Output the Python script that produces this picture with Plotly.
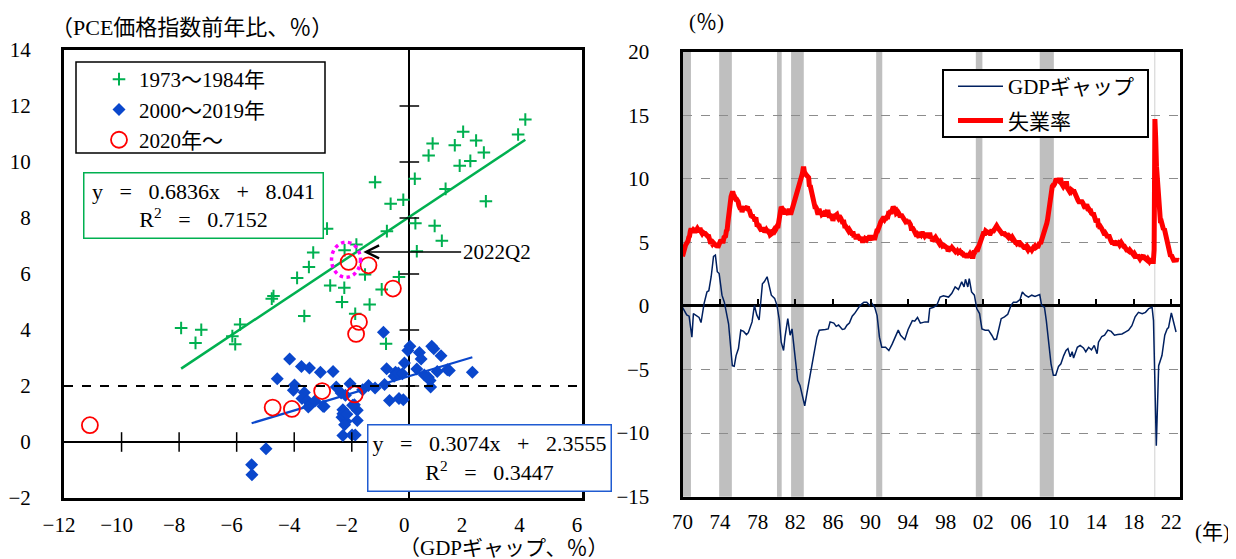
import plotly.graph_objects as go

W, H = 1236, 559
OFF = 8  # the page body adds an 8px margin around the figure


def px(x):
    return (x - OFF) / W


def py(y):
    return 1 - (y - OFF) / H


FONT = "'Liberation Serif', 'Noto Sans CJK JP', serif"
GREEN = "#00B050"
BLUE = "#0A47CC"
RED = "#FF0000"
NAVY = "#002060"
MAGENTA = "#FF00FF"

# ---------------- Left panel data (GDP gap vs PCE inflation) ----------------
gap_7384 = [4.03, 3.78, 1.87, 2.32, 0.81, 1.58, 2.59, 0.67, 2.12, 1.75, -1.19, 0.19, 1.26,
            -0.65, -0.21, 2.66, 0.21, 0.88, -0.78, 1.13, 0.26,
            -2.86, -1.84, -2.25, -3.34, -3.49, -3.90, -1.54, -0.36, -2.75, -2.26, -0.96,
            -4.72, -4.78, -2.34, -1.38, -3.65, -1.88, -7.93, -7.23, -5.88, -6.15, -6.05,
            -7.43, -0.81]
pce_7384 = [11.52, 10.98, 11.08, 10.77, 10.66, 10.60, 10.34, 10.23, 10.04, 9.87, 9.28, 9.40, 9.04,
            8.51, 8.65, 8.60, 7.81, 7.72, 7.53, 7.19, 6.81,
            7.62, 7.05, 6.85, 6.77, 6.25, 5.86, 5.98, 5.89, 5.59, 5.51, 5.45,
            5.21, 5.12, 5.00, 4.91, 4.50, 4.58, 4.07, 4.01, 4.20, 3.78, 3.49,
            3.54, 3.51]

gap_0019 = [-4.16, -3.75, -3.47, -3.09, -2.65, -4.59, -3.99, -4.03, -3.65, -3.73, -3.55, -3.44,
            -3.28, -3.51, -2.96, -2.54, -2.37, -2.06, -2.22, -2.31, -2.34, -2.20, -2.25, -1.81,
            -1.81, -1.91, -2.31, -1.99, -1.88, -4.98, -5.48, -5.47, -0.90, -0.79, -1.42, -1.19,
            -0.86, -0.69, -1.62, -1.97, -2.31, -2.17, -3.00,
            0.02, -0.05, 0.78, 0.85, 0.35, 0.41, 1.10, -0.17, -0.48, -0.53, -0.38, -0.24,
            0.26, 0.52, 0.66, 0.97, 1.32, 1.39, 2.19, 0.72, 0.74, -0.36, -0.21]
pce_0019 = [2.96, 2.70, 2.64, 2.49, 2.52, 2.26, 2.04, 1.85, 1.77, 1.55, 1.48, 1.33,
            1.46, 1.25, 1.27, 1.96, 1.75, 2.08, 1.67, 1.15, 0.88, 0.73, 0.62, 1.13,
            0.77, 1.33, 0.23, 0.25, 0.25, -0.24, -0.81, -1.17, 3.92, 2.62, 2.02, 1.93,
            2.05, 1.48, 1.87, 1.31, 1.01, 0.99, 1.28,
            3.42, 3.27, 3.42, 3.33, 3.20, 2.96, 3.08, 2.82, 2.49, 2.35, 2.46, 2.44,
            2.61, 2.39, 2.31, 2.52, 2.58, 2.55, 2.49, 2.20, 1.96, 1.55, 1.51]

gap_2020 = [-1.90, -11.10, -4.08, -4.75, -3.03, -1.85, -1.75, -0.57, -1.42, -2.11]
pce_2020 = [1.70, 0.60, 1.18, 1.23, 1.82, 3.86, 4.29, 5.48, 6.31, 6.43]

fit_7384 = [0.6836, 8.041]   # slope, intercept
fit_0019 = [0.3074, 2.3555]
r2_7384 = "0.7152"
r2_0019 = "0.3447"
inflation_target = 2.0
latest_point = [-2.2, 6.51]  # 2022Q2 highlight centre

left_xticks = [-12, -10, -8, -6, -4, -2, 0, 2, 4, 6]
left_yticks = [-2, 0, 2, 4, 6, 8, 10, 12, 14]

# ---------------- Right panel data ----------------
unemployment_start = 1970
unemployment_rate = [
    3.9, 4.2, 4.4, 4.6, 4.8, 4.9, 5.0, 5.1, 5.4, 5.5, 5.9, 6.1,   # 1970
    5.9, 5.9, 6.0, 5.9, 5.9, 5.9, 6.0, 6.1, 6.0, 5.8, 6.0, 6.0,   # 1971
    5.8, 5.7, 5.8, 5.7, 5.7, 5.7, 5.6, 5.6, 5.5, 5.6, 5.3, 5.2,   # 1972
    4.9, 5.0, 4.9, 5.0, 4.9, 4.9, 4.8, 4.8, 4.8, 4.6, 4.8, 4.9,   # 1973
    5.1, 5.2, 5.1, 5.1, 5.1, 5.4, 5.5, 5.5, 5.9, 6.0, 6.6, 7.2,   # 1974
    8.1, 8.1, 8.6, 8.8, 9.0, 8.8, 8.6, 8.4, 8.4, 8.4, 8.3, 8.2,   # 1975
    7.9, 7.7, 7.6, 7.7, 7.4, 7.6, 7.8, 7.8, 7.6, 7.7, 7.8, 7.8,   # 1976
    7.5, 7.6, 7.4, 7.2, 7.0, 7.2, 6.9, 7.0, 6.8, 6.8, 6.8, 6.4,   # 1977
    6.4, 6.3, 6.3, 6.1, 6.0, 5.9, 6.2, 5.9, 6.0, 5.8, 5.9, 6.0,   # 1978
    5.9, 5.9, 5.8, 5.8, 5.6, 5.7, 5.7, 6.0, 5.9, 6.0, 5.9, 6.0,   # 1979
    6.3, 6.3, 6.3, 6.9, 7.5, 7.6, 7.8, 7.7, 7.5, 7.5, 7.5, 7.2,   # 1980
    7.5, 7.4, 7.4, 7.2, 7.5, 7.5, 7.2, 7.4, 7.6, 7.9, 8.3, 8.5,   # 1981
    8.6, 8.9, 9.0, 9.3, 9.4, 9.6, 9.8, 9.8, 10.1, 10.4, 10.8, 10.8,  # 1982
    10.4, 10.4, 10.3, 10.2, 10.1, 10.1, 9.4, 9.5, 9.2, 8.8, 8.5, 8.3,  # 1983
    8.0, 7.8, 7.8, 7.7, 7.4, 7.2, 7.5, 7.5, 7.3, 7.4, 7.2, 7.3,   # 1984
    7.3, 7.2, 7.2, 7.3, 7.2, 7.4, 7.4, 7.1, 7.1, 7.1, 7.0, 7.0,   # 1985
    6.7, 7.2, 7.2, 7.1, 7.2, 7.2, 7.0, 6.9, 7.0, 7.0, 6.9, 6.6,   # 1986
    6.6, 6.6, 6.6, 6.3, 6.3, 6.2, 6.1, 6.0, 5.9, 6.0, 5.8, 5.7,   # 1987
    5.7, 5.7, 5.7, 5.4, 5.6, 5.4, 5.4, 5.6, 5.4, 5.4, 5.3, 5.3,   # 1988
    5.4, 5.2, 5.0, 5.2, 5.2, 5.3, 5.2, 5.2, 5.3, 5.3, 5.4, 5.4,   # 1989
    5.4, 5.3, 5.2, 5.4, 5.4, 5.2, 5.5, 5.7, 5.9, 5.9, 6.2, 6.3,   # 1990
    6.4, 6.6, 6.8, 6.7, 6.9, 6.9, 6.8, 6.9, 6.9, 7.0, 7.0, 7.3,   # 1991
    7.3, 7.4, 7.4, 7.4, 7.6, 7.8, 7.7, 7.6, 7.6, 7.3, 7.4, 7.4,   # 1992
    7.3, 7.1, 7.0, 7.1, 7.1, 7.0, 6.9, 6.8, 6.7, 6.8, 6.6, 6.5,   # 1993
    6.6, 6.6, 6.5, 6.4, 6.1, 6.1, 6.1, 6.0, 5.9, 5.8, 5.6, 5.5,   # 1994
    5.6, 5.4, 5.4, 5.8, 5.6, 5.6, 5.7, 5.7, 5.6, 5.5, 5.6, 5.6,   # 1995
    5.6, 5.5, 5.5, 5.6, 5.6, 5.3, 5.5, 5.1, 5.2, 5.2, 5.4, 5.4,   # 1996
    5.3, 5.2, 5.2, 5.1, 4.9, 5.0, 4.9, 4.8, 4.9, 4.7, 4.6, 4.7,   # 1997
    4.6, 4.6, 4.7, 4.3, 4.4, 4.5, 4.5, 4.5, 4.6, 4.5, 4.4, 4.4,   # 1998
    4.3, 4.4, 4.2, 4.3, 4.2, 4.3, 4.3, 4.2, 4.2, 4.1, 4.1, 4.0,   # 1999
    4.0, 4.1, 4.0, 3.8, 4.0, 4.0, 4.0, 4.1, 3.9, 3.9, 3.9, 3.9,   # 2000
    4.2, 4.2, 4.3, 4.4, 4.3, 4.5, 4.6, 4.9, 5.0, 5.3, 5.5, 5.7,   # 2001
    5.7, 5.7, 5.7, 5.9, 5.8, 5.8, 5.8, 5.7, 5.7, 5.7, 5.9, 6.0,   # 2002
    5.8, 5.9, 5.9, 6.0, 6.1, 6.3, 6.2, 6.1, 6.1, 6.0, 5.8, 5.7,   # 2003
    5.7, 5.6, 5.8, 5.6, 5.6, 5.6, 5.5, 5.4, 5.4, 5.5, 5.4, 5.4,   # 2004
    5.3, 5.4, 5.2, 5.2, 5.1, 5.0, 5.0, 4.9, 5.0, 5.0, 5.0, 4.9,   # 2005
    4.7, 4.8, 4.7, 4.7, 4.6, 4.6, 4.7, 4.7, 4.5, 4.4, 4.5, 4.4,   # 2006
    4.6, 4.5, 4.4, 4.5, 4.4, 4.6, 4.7, 4.6, 4.7, 4.7, 4.7, 5.0,   # 2007
    5.0, 4.9, 5.1, 5.0, 5.4, 5.6, 5.8, 6.1, 6.1, 6.5, 6.8, 7.3,   # 2008
    7.8, 8.3, 8.7, 9.0, 9.4, 9.5, 9.5, 9.6, 9.8, 10.0, 9.9, 9.9,  # 2009
    9.8, 9.8, 9.9, 9.9, 9.6, 9.4, 9.4, 9.5, 9.5, 9.4, 9.8, 9.3,   # 2010
    9.1, 9.0, 9.0, 9.1, 9.0, 9.1, 9.0, 9.0, 9.0, 8.8, 8.6, 8.5,   # 2011
    8.3, 8.3, 8.2, 8.2, 8.2, 8.2, 8.2, 8.1, 7.8, 7.8, 7.7, 7.9,   # 2012
    8.0, 7.7, 7.5, 7.6, 7.5, 7.5, 7.3, 7.2, 7.2, 7.2, 6.9, 6.7,   # 2013
    6.6, 6.7, 6.7, 6.2, 6.3, 6.1, 6.2, 6.1, 5.9, 5.7, 5.8, 5.6,   # 2014
    5.7, 5.5, 5.4, 5.4, 5.6, 5.3, 5.2, 5.1, 5.0, 5.0, 5.1, 5.0,   # 2015
    4.8, 4.9, 5.0, 5.1, 4.8, 4.9, 4.8, 4.9, 5.0, 4.9, 4.7, 4.7,   # 2016
    4.7, 4.6, 4.4, 4.4, 4.4, 4.3, 4.3, 4.4, 4.3, 4.2, 4.2, 4.1,   # 2017
    4.0, 4.1, 4.0, 4.0, 3.8, 4.0, 3.8, 3.8, 3.7, 3.8, 3.8, 3.9,   # 2018
    4.0, 3.8, 3.8, 3.7, 3.6, 3.6, 3.7, 3.6, 3.5, 3.6, 3.6, 3.6,   # 2019
    3.5, 3.5, 4.4, 14.7, 13.2, 11.0, 10.2, 8.4, 7.9, 6.9, 6.7, 6.7,  # 2020
    6.4, 6.2, 6.0, 6.1, 5.8, 5.9, 5.4, 5.2, 4.7, 4.5, 4.2, 3.9,   # 2021
    4.0, 3.8, 3.6, 3.6, 3.6, 3.6, 3.5, 3.7, 3.6,                  # 2022
]

gdp_gap_time = [
    1970.0, 1970.45, 1970.7, 1971.0, 1971.16, 1971.5, 1971.76, 1971.97, 1972.3, 1972.6,
    1972.8, 1973.05, 1973.3, 1973.5, 1973.7, 1973.9, 1974.2, 1974.45, 1974.9, 1975.3,
    1975.5, 1975.7, 1975.95, 1976.2, 1976.5, 1976.8, 1977.0, 1977.4, 1977.65, 1977.9,
    1978.15, 1978.5, 1978.7, 1979.0, 1979.15, 1979.45, 1979.8, 1980.05, 1980.3, 1980.5,
    1980.75, 1980.9, 1981.2, 1981.45, 1981.65, 1981.9, 1982.25, 1982.5, 1982.8, 1983.0,
    1983.25, 1983.6, 1983.95, 1984.3, 1984.55, 1984.85, 1985.2, 1985.5, 1985.7, 1986.1,
    1986.35, 1986.6, 1987.0, 1987.25, 1987.5, 1987.75, 1988.05, 1988.3, 1988.55, 1988.9,
    1989.3, 1989.6, 1989.9, 1990.15, 1990.45, 1990.7, 1990.95, 1991.2, 1991.6, 1991.95,
    1992.3, 1992.65, 1992.95, 1993.2, 1993.65, 1994.0, 1994.45, 1994.7, 1995.0, 1995.3,
    1995.8, 1996.15, 1996.3, 1996.7, 1997.05, 1997.4, 1997.75, 1998.3, 1998.65, 1999.0,
    1999.35, 1999.7, 1999.95, 2000.1, 2000.35, 2000.5, 2000.75, 2001.05, 2001.3, 2001.6,
    2001.85, 2002.2, 2002.55, 2002.9, 2003.15, 2003.4, 2003.7, 2003.9, 2004.25, 2004.6,
    2004.95, 2005.2, 2005.55, 2005.9, 2006.15, 2006.45, 2006.8, 2007.15, 2007.5, 2008.0,
    2008.2, 2008.5, 2008.7, 2008.95, 2009.2, 2009.45, 2009.7, 2010.0, 2010.25, 2010.55,
    2010.8, 2011.0, 2011.25, 2011.45, 2011.6, 2012.0, 2012.3, 2012.65, 2012.9, 2013.2,
    2013.5, 2013.8, 2014.1, 2014.25, 2014.6, 2014.9, 2015.25, 2015.6, 2015.95, 2016.3,
    2016.75, 2017.1, 2017.45, 2017.8, 2018.15, 2018.5, 2018.9, 2019.25, 2019.6, 2019.95,
    2020.1, 2020.4, 2020.65, 2021.0, 2021.3, 2021.55, 2021.7, 2022.0, 2022.25, 2022.5]
gdp_gap_value = [
    -0.1, -0.7, -0.8, -2.45, -0.6, -0.8, -0.9, -1.3, 0.2, 1.1,
    1.2, 2.3, 3.9, 4.0, 2.7, 2.55, 0.85, 0.3, -1.4, -4.7,
    -4.75, -3.9, -3.35, -1.9, -2.0, -2.25, -2.1, -1.25, 0.05, -0.7,
    -1.1, 1.75, 1.9, 2.3, 1.75, 0.85, 0.6, 0.05, -1.1, -2.85,
    -3.5, -2.45, -1.0, -2.3, -1.8, -3.5, -5.85, -6.25, -7.2, -7.85,
    -6.8, -5.35, -3.75, -2.45, -1.9, -1.9, -1.85, -1.8, -1.25, -1.35,
    -1.6, -1.5, -1.85, -1.8, -1.5, -1.35, -0.8, -0.6, -0.35, 0.05,
    0.3, 0.3, 0.05, 0.2, -0.1, -0.75, -2.45, -3.25, -3.25, -3.5,
    -3.0, -2.45, -1.9, -2.3, -2.65, -1.85, -1.15, -1.2, -0.9, -1.35,
    -1.25, -1.25, -0.2, -0.1, 0.05, 0.7, 0.8, 0.7, 1.0, 1.5,
    1.3, 1.9, 1.5, 2.1, 1.5, 2.15, 1.1, 0.85, -0.2, -0.6,
    -1.8, -1.9, -1.9, -2.3, -2.65, -2.6, -1.65, -1.0, -0.85, -0.65,
    0.05, 0.3, 0.3, 0.5, 1.1, 0.85, 0.7, 0.85, 0.75, 0.9,
    0.05, -0.1, -1.15, -2.7, -4.55, -5.45, -5.45, -4.75, -4.55, -3.9,
    -3.5, -3.35, -4.0, -3.6, -4.1, -3.25, -3.1, -3.3, -3.6, -3.25,
    -3.45, -3.1, -3.75, -2.85, -2.4, -2.3, -1.9, -2.0, -2.3, -2.25,
    -2.2, -2.05, -1.9, -1.55, -0.85, -0.5, -0.6, -0.5, -0.2, -0.1,
    -1.15, -11.0, -4.7, -3.9, -2.3, -1.8, -1.7, -0.55, -1.25, -2.05]

recession_start = [1970.0, 1973.9, 1980.05, 1981.55, 1990.6, 2001.2, 2008.0]
recession_end = [1970.9, 1975.25, 1980.55, 1982.9, 1991.25, 2001.9, 2009.5]
covid_recession = [2020.17, 2020.3]

right_year_ticks = list(range(1970, 2023, 4))
right_year_labels = [f"{y % 100:02d}" for y in right_year_ticks]
right_yticks = [-15, -10, -5, 0, 5, 10, 15, 20]


def minus(v):
    return str(v).replace("-", "\u2212")


# ---------------- Geometry (reference pixel positions) ----------------
L_X = [px(64), px(582)]
L_Y = [py(498), py(50)]
R_X = [px(682.5), px(1180)]
R_Y = [py(496.7), py(51.7)]
R_XRANGE = [1970, 2022.92]
zero_pos_right = R_Y[0] + (0 - (-15)) / 35 * (R_Y[1] - R_Y[0])

fig = go.Figure()

fig.add_trace(go.Scatter(
    x=gap_7384, y=pce_7384, mode="markers", name="1973～1984年",
    marker=dict(symbol="cross-thin-open", size=9, color=GREEN,
                line=dict(width=2, color=GREEN)),
    legend="legend", legendrank=1, hoverinfo="skip"))
fig.add_trace(go.Scatter(
    x=gap_0019, y=pce_0019, mode="markers", name="2000～2019年",
    marker=dict(symbol="diamond", size=10, color=BLUE),
    legend="legend", legendrank=2, hoverinfo="skip"))

gx = [min(gap_7384), max(gap_7384)]
fig.add_trace(go.Scatter(
    x=gx, y=[fit_7384[0] * v + fit_7384[1] for v in gx], mode="lines",
    line=dict(color=GREEN, width=2.5), showlegend=False, hoverinfo="skip"))
bx = [min(gap_0019), max(gap_0019)]
fig.add_trace(go.Scatter(
    x=bx, y=[fit_0019[0] * v + fit_0019[1] for v in bx], mode="lines",
    line=dict(color=BLUE, width=2.2), showlegend=False, hoverinfo="skip"))

fig.add_trace(go.Scatter(
    x=gap_2020, y=pce_2020, mode="markers", name="2020年～",
    marker=dict(symbol="circle-open", size=16, color=RED, line=dict(width=1.8, color=RED)),
    legend="legend", legendrank=3, hoverinfo="skip"))

xt = [v for v in left_xticks if v not in (0, left_xticks[0], left_xticks[-1])]
fig.add_trace(go.Scatter(
    x=xt, y=[0] * len(xt), mode="markers",
    marker=dict(symbol="line-ns", size=14, line=dict(width=1.5, color="black")),
    showlegend=False, hoverinfo="skip"))
yt = [v for v in left_yticks if v not in (0, left_yticks[0], left_yticks[-1])]
fig.add_trace(go.Scatter(
    x=[0] * len(yt), y=yt, mode="markers",
    marker=dict(symbol="line-ew", size=14, line=dict(width=1.5, color="black")),
    showlegend=False, hoverinfo="skip"))

fig.add_trace(go.Scatter(
    x=gdp_gap_time, y=gdp_gap_value, mode="lines", name="GDPギャップ",
    line=dict(color=NAVY, width=1.5), xaxis="x2", yaxis="y2",
    legend="legend2", legendgroup="a", hoverinfo="skip"))
unemp_x = [unemployment_start + i / 12 for i in range(len(unemployment_rate))]
fig.add_trace(go.Scatter(
    x=unemp_x, y=unemployment_rate, mode="lines", name="失業率",
    line=dict(color=RED, width=5), xaxis="x2", yaxis="y2",
    legend="legend2", legendgroup="b", hoverinfo="skip"))
fig.add_trace(go.Scatter(x=[None], y=[None], xaxis="x3", yaxis="y2",
                         showlegend=False, hoverinfo="skip"))

shapes = []
for s, e in zip(recession_start, recession_end):
    shapes.append(dict(type="rect", xref="x2", yref="y2 domain", x0=s, x1=e, y0=0, y1=1,
                       fillcolor="#BFBFBF", line=dict(width=0), layer="below"))
shapes.append(dict(type="rect", xref="x2", yref="y2 domain", x0=covid_recession[0],
                   x1=covid_recession[1], y0=0, y1=1, fillcolor="#D9D9D9",
                   line=dict(width=0), layer="below"))
shapes.append(dict(type="line", xref="x domain", yref="y", x0=0, x1=1,
                   y0=inflation_target, y1=inflation_target,
                   line=dict(color="black", width=2, dash="dash")))
shapes.append(dict(type="circle", xref="x", yref="y", xsizemode="pixel", ysizemode="pixel",
                   xanchor=latest_point[0], yanchor=latest_point[1],
                   x0=-14.5, x1=14.5, y0=-17.5, y1=17.5,
                   line=dict(color=MAGENTA, width=3.5, dash="dot")))
shapes.append(dict(type="rect", xref="paper", yref="paper", x0=px(76), x1=px(325),
                   y0=py(153), y1=py(62), line=dict(color="black", width=1.5),
                   fillcolor="rgba(0,0,0,0)"))
shapes.append(dict(type="rect", xref="paper", yref="paper", x0=px(943), x1=px(1148),
                   y0=py(137), y1=py(70), line=dict(color="black", width=2),
                   fillcolor="white"))

tf = dict(family=FONT, size=21, color="black")
ef = dict(family=FONT, size=22, color="black")
SP = "\u2002\u2005"
annotations = [
    dict(text="（PCE価格指数前年比、％）", xref="paper", yref="paper", x=px(49), y=py(27),
         xanchor="left", yanchor="middle", showarrow=False,
         font=dict(family=FONT, size=22, color="black")),
    dict(text="（GDPギャップ、％）", xref="paper", yref="paper", x=px(397), y=py(548),
         xanchor="left", yanchor="middle", showarrow=False, font=tf),
    dict(text="(％)", xref="paper", yref="paper", x=px(687), y=py(22),
         xanchor="left", yanchor="middle", showarrow=False, font=tf),
    dict(text="(年)", xref="paper", yref="paper", x=px(1193), y=py(532),
         xanchor="left", yanchor="middle", showarrow=False, font=tf),
    dict(text=f"y{SP}={SP}{fit_7384[0]}x{SP}+{SP}{fit_7384[1]}<br>R<sup>2</sup>{SP}={SP}{r2_7384}",
         xref="paper", yref="paper", x=px(203.5), y=py(205), xanchor="center", yanchor="middle",
         showarrow=False, font=ef, bgcolor="white", bordercolor=GREEN, borderwidth=1.5,
         borderpad=0, width=238, height=64, align="center"),
    dict(text=f"y{SP}={SP}{fit_0019[0]}x{SP}+{SP}{fit_0019[1]}<br>R<sup>2</sup>{SP}={SP}{r2_0019}",
         xref="paper", yref="paper", x=px(490), y=py(457.5), xanchor="center", yanchor="middle",
         showarrow=False, font=ef, bgcolor="white", bordercolor="#1F5BD1", borderwidth=1.5,
         borderpad=0, width=242, height=65, align="center"),
    dict(text="2022Q2", xref="x", yref="y", x=-1.6, y=6.79, axref="x", ayref="y",
         ax=1.8, ay=6.79, xanchor="left", showarrow=True, arrowhead=5, arrowsize=1.7,
         arrowwidth=1.5, arrowcolor="black", font=tf),
]

axis_common = dict(showline=True, mirror=True, linecolor="black", linewidth=3,
                   showgrid=False, ticks="", tickfont=tf, fixedrange=True, automargin=False)

fig.update_layout(
    template="none",
    width=W, height=H, margin=dict(l=0, r=0, t=0, b=0, autoexpand=False),
    paper_bgcolor="white", plot_bgcolor="white",
    font=tf,
    xaxis=dict(domain=L_X, range=[left_xticks[0], left_xticks[-1]], anchor="y",
               tickvals=left_xticks, ticktext=[minus(v) for v in left_xticks],
               zeroline=True, zerolinecolor="black", zerolinewidth=1.5,
               ticklabelstandoff=6, ticklabelshift=-5, **axis_common),
    yaxis=dict(domain=L_Y, range=[left_yticks[0], left_yticks[-1]], anchor="x",
               tickvals=left_yticks, ticktext=[minus(v) for v in left_yticks],
               zeroline=True, zerolinecolor="black", zerolinewidth=1.5,
               ticklabelstandoff=26, **axis_common),
    xaxis2=dict(domain=R_X, range=R_XRANGE, anchor="y2",
                tickvals=right_year_ticks, ticktext=right_year_labels,
                zeroline=False, ticklabelstandoff=4, **axis_common),
    yaxis2=dict(domain=R_Y, range=[-15, 20], anchor="x2",
                tickvals=right_yticks, ticktext=[minus(v) for v in right_yticks],
                zeroline=True, zerolinecolor="black", zerolinewidth=2.5,
                ticklabelstandoff=26,
                **{k: v for k, v in axis_common.items() if k != "showgrid"},
                showgrid=True, gridcolor="#8C8C8C", gridwidth=1, griddash="dash"),
    xaxis3=dict(overlaying="x2", anchor="free", position=zero_pos_right, side="top",
                range=R_XRANGE, tickvals=right_year_ticks[1:], ticks="outside",
                ticklen=7, tickwidth=2, tickcolor="black", showticklabels=False,
                showline=False, showgrid=False, zeroline=False, fixedrange=True,
                automargin=False),
    legend=dict(x=px(99), y=py(59), xanchor="left", yanchor="top",
                bgcolor="rgba(0,0,0,0)", borderwidth=0, font=tf, itemwidth=30,
                tracegroupgap=0, traceorder="normal"),
    legend2=dict(x=px(953), y=py(66), xanchor="left", yanchor="top",
                 bgcolor="rgba(0,0,0,0)", borderwidth=0, font=tf, itemwidth=45,
                 tracegroupgap=4, traceorder="grouped"),
    shapes=shapes,
    annotations=annotations,
    showlegend=True,
)

fig.write_html("out.html")
